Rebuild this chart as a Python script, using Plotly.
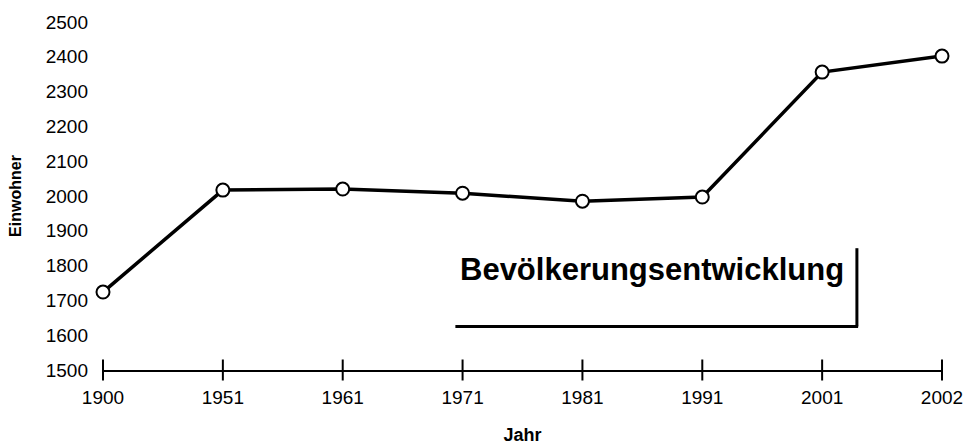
import plotly.graph_objects as go

years = ["1900", "1951", "1961", "1971", "1981", "1991", "2001", "2002"]
einwohner = [1724, 2017, 2020, 2008, 1985, 1997, 2356, 2402]
y_ticks = [1500, 1600, 1700, 1800, 1900, 2000, 2100, 2200, 2300, 2400, 2500]
title_text = "Bevölkerungsentwicklung"

idx = list(range(len(years)))

fig = go.Figure()
# axis ticks crossing the x-axis line
fig.add_trace(go.Scatter(
    x=idx, y=[1500] * len(idx), mode="markers",
    marker=dict(symbol="line-ns-open", size=15, color="black", line=dict(color="black", width=2)),
    hoverinfo="skip", showlegend=False, cliponaxis=False))
fig.add_trace(go.Scatter(
    x=idx, y=einwohner, mode="lines+markers",
    line=dict(color="black", width=3.5),
    marker=dict(symbol="circle", size=13, color="white", line=dict(color="black", width=2)),
    showlegend=False, cliponaxis=False))

# title box with shadow edges
fig.add_annotation(x=2.96, y=1790, xref="x", yref="y", text="<b>" + title_text + "</b>",
                   showarrow=False, xanchor="left", yanchor="middle",
                   font=dict(family="Arial, Liberation Sans", size=31, color="black"))
fig.add_shape(type="line", xref="x", yref="y", x0=2.94, x1=6.30, y0=1625, y1=1625,
              line=dict(color="black", width=3))
fig.add_shape(type="line", xref="x", yref="y", x0=6.29, x1=6.29, y0=1625, y1=1850,
              line=dict(color="black", width=3))

fig.update_layout(
    width=966, height=446,
    margin=dict(l=103, r=24, t=22, b=76, autoexpand=False),
    paper_bgcolor="white", plot_bgcolor="white",
    font=dict(family="Arial, Liberation Sans", color="black", size=19),
    xaxis=dict(range=[0, 7], tickvals=idx, ticktext=years, showgrid=False, zeroline=False,
               showline=True, linecolor="black", linewidth=2, ticks="", automargin=False,
               ticklabelstandoff=9,
               title=dict(text="<b>Jahr</b>", font=dict(size=18), standoff=22)),
    yaxis=dict(range=[1500, 2500], tickvals=y_ticks, showgrid=False, zeroline=False,
               showline=False, ticks="", ticklabelstandoff=14, automargin=False,
               title=dict(text="<b>Einwohner</b>", font=dict(size=16), standoff=20)),
)

fig.write_html("out.html", config={"displayModeBar": False},
               post_script="document.body.style.margin='0px';document.body.style.overflow='hidden';")
